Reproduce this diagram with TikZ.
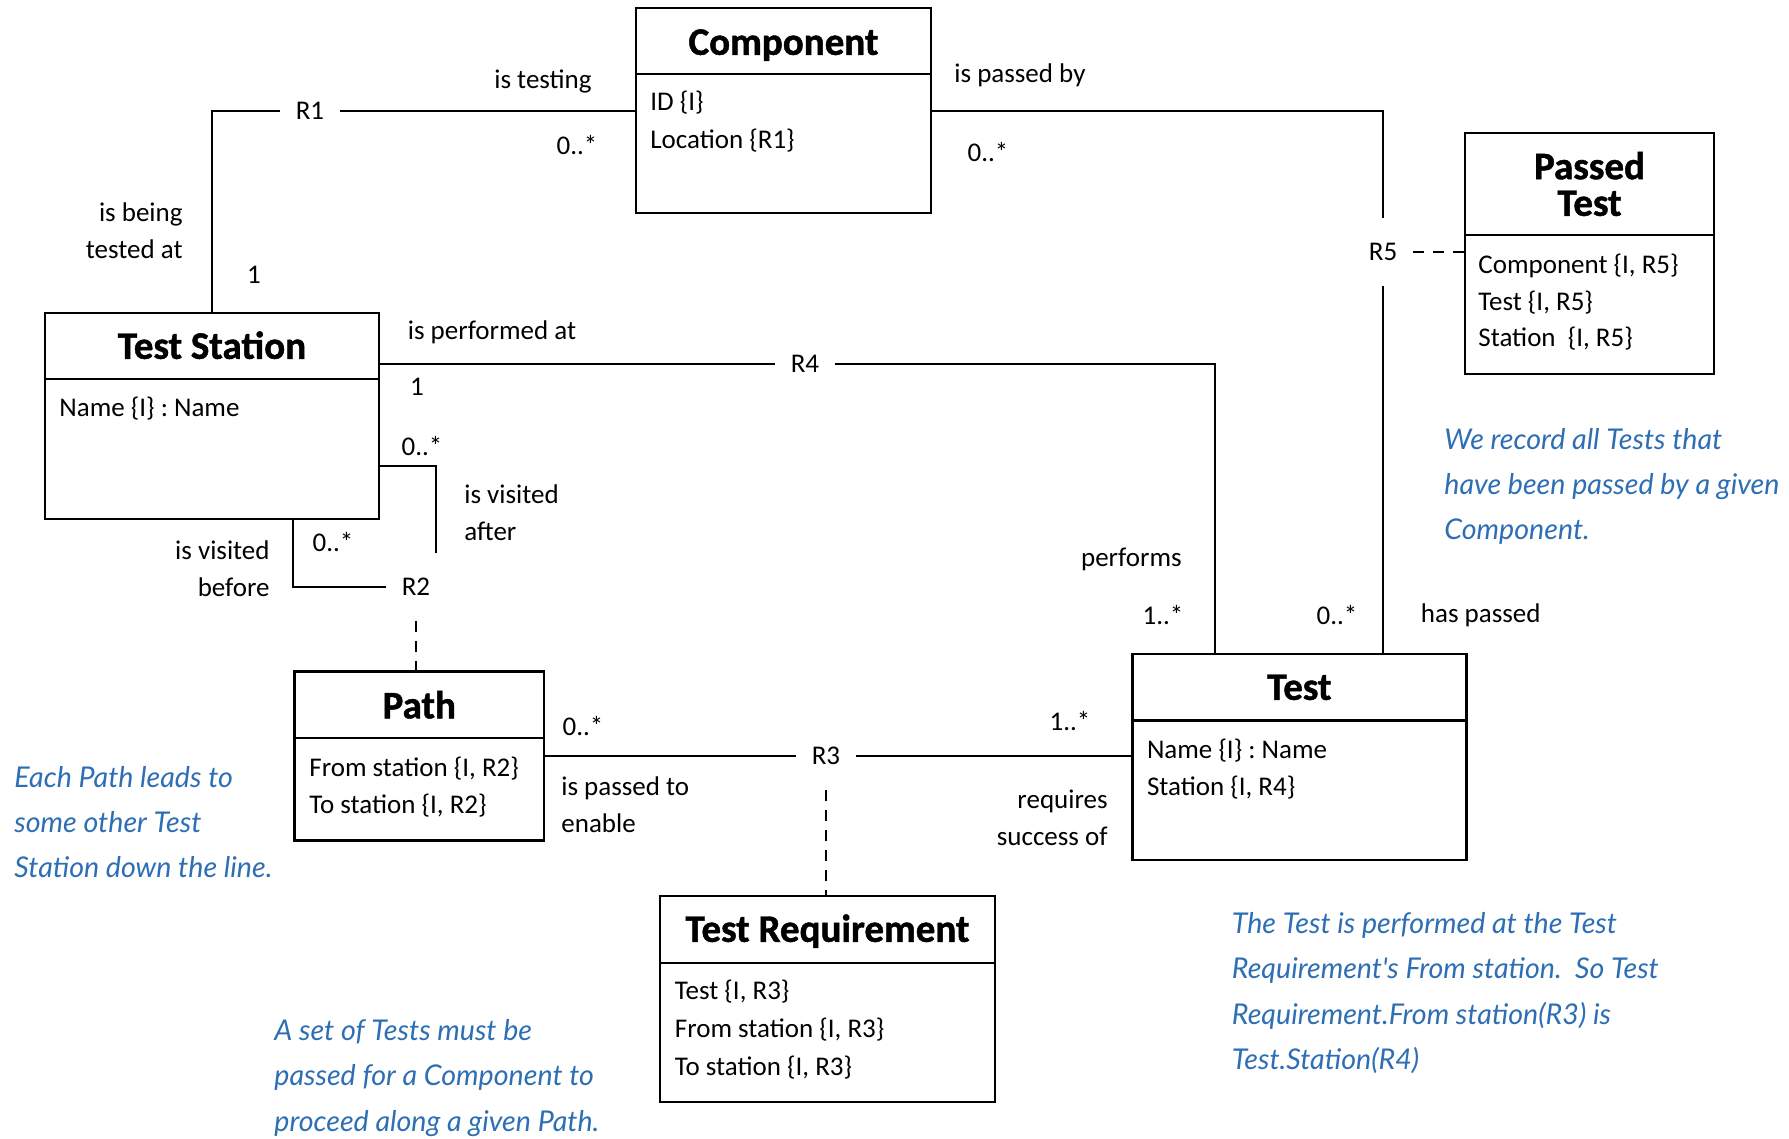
\documentclass[tikz,border=0pt]{standalone}
\usepackage{fontspec}
\setmainfont{Carlito}
\newfontfamily\titlefont{Carlito}[BoldFeatures={FakeBold=1.2}]
\newfontfamily\notefont{Lato}
\usetikzlibrary{fit}

\definecolor{notecol}{RGB}{45,110,180}

\tikzset{
  frame/.style={draw, line width=1.2pt, inner sep=0pt},
  divider/.style={line width=1.2pt},
  conn/.style={line width=1.1pt},
  assoc/.style={line width=1.1pt, dash pattern=on 5.5pt off 4.5pt},
  rel/.style={inner xsep=7.5pt, inner ysep=0pt, minimum height=33.5pt,
    font=\fontsize{13.5}{16}\selectfont},
  lbl/.style={inner sep=0pt, font=\fontsize{13.5}{18.5}\selectfont},
  title/.style={inner sep=0pt, anchor=base, font=\titlefont\fontsize{19.5}{22}\selectfont\bfseries},
  attr/.style={anchor=west, inner sep=0pt, font=\fontsize{13.5}{16}\selectfont},
  note/.style={anchor=west, align=left, inner sep=0pt, text=notecol,
    font=\notefont\itshape\fontsize{14.3}{22.6}\selectfont},
}

\begin{document}
\begin{tikzpicture}[x=0.5pt, y=-0.5pt]
\useasboundingbox (0,0) rectangle (1789,1139);

% ---- class boxes ----
\node[frame, fit={(636,8) (931,213)}] (comp) {};
\draw[divider] (comp.west |- 0,74) -- (comp.east |- 0,74);
\node[title] (compT) at ([yshift=-24pt]comp.north) {Component};
\node[attr] (compA1) at (650,103) {ID \{I\}};
\node[attr] (compA2) at (650,141) {Location \{R1\}};

\node[frame, fit={(45,313) (379,519)}] (ts) {};
\draw[divider] (ts.west |- 0,379) -- (ts.east |- 0,379);
\node[title] (tsT) at ([yshift=-23.5pt]ts.north) {Test Station};
\node[attr] (tsA1) at (59,409) {Name \{I\} : Name};

\node[frame, fit={(1465,133) (1714,374)}] (pt) {};
\draw[divider] (pt.west |- 0,235) -- (pt.east |- 0,235);
\node[title] (ptT1) at ([yshift=-23.7pt]pt.north) {Passed};
\node[title] (ptT2) at ([yshift=-42pt]pt.north) {Test};
\node[attr] (ptA1) at (1478,266) {Component \{I, R5\}};
\node[attr] (ptA2) at (1478,303) {Test \{I, R5\}};
\node[attr] (ptA3) at (1478,339) {Station\ \ \{I, R5\}};

\node[frame, fit={(294.5,671.5) (544,840.6)}] (path) {};
\draw[divider] (path.west |- 0,738) -- (path.east |- 0,738);
\node[title] (pathT) at ([yshift=-24pt]path.north) {Path};
\node[attr] (pathA1) at (309,769) {From station \{I, R2\}};
\node[attr] (pathA2) at (309,806) {To station \{I, R2\}};

\node[frame, fit={(1132.4,654) (1466.4,860)}] (test) {};
\draw[divider] (test.west |- 0,720.6) -- (test.east |- 0,720.6);
\node[title] (testT) at ([yshift=-23.5pt]test.north) {Test};
\node[attr] (testA1) at (1146.6,751) {Name \{I\} : Name};
\node[attr] (testA2) at (1146.6,788) {Station \{I, R4\}};

\node[frame, fit={(660,896) (995,1102)}] (treq) {};
\draw[divider] (treq.west |- 0,963) -- (treq.east |- 0,963);
\node[title] (treqT) at ([yshift=-23.5pt]treq.north) {Test Requirement};
\node[attr] (treqA1) at (674.5,992) {Test \{I, R3\}};
\node[attr] (treqA2) at (674.5,1030) {From station \{I, R3\}};
\node[attr] (treqA3) at (674.5,1068) {To station \{I, R3\}};

% ---- relationship labels ----
\node[rel] (R1) at (310,111) {R1};
\node[rel] (R2) at (416,587) {R2};
\node[rel] (R3) at (826,756) {R3};
\node[rel] (R4) at (805,364) {R4};
\node[rel] (R5) at (1383,252) {R5};

% ---- connectors ----
% R1: Component -- Test Station
\draw[conn] (comp.west |- R1) -- (R1.east);
\draw[conn] (R1.west) -| (ts.north);
% R4: Test Station -- Test
\draw[conn] (ts.east |- R4) -- (R4.west);
\draw[conn] (R4.east) -| ([xshift=41.8pt]test.north west);
% R5: Component -- Test, with Passed Test as association class
\draw[conn] (comp.east |- R1) -| (R5.north);
\draw[conn] (R5.south) -- (R5.south |- test.north);
\draw[assoc] (R5.east) -- (pt.west |- R5);
% R2: Test Station reflexive, with Path as association class
\draw[conn] ([yshift=-77pt]ts.north east) -| ([xshift=10pt]R2.north);
\draw[conn] (R2.west) -| ([xshift=124.75pt]ts.south west);
\draw[assoc] (R2.south) -- (R2.south |- path.north);
% R3: Path -- Test, with Test Requirement as association class
\draw[conn] (path.east |- R3) -- (R3.west);
\draw[conn] (R3.east) -- (test.west |- R3);
\draw[assoc] (R3.south) -- (R3.south |- treq.north);

% ---- phrases and multiplicities ----
\node[lbl] (l1) at (543,81) {is testing};
\node[lbl] (m1) at (577,145) {0..*};
\node[lbl, anchor=east, align=right] (l2) at (183,231) {is being\\tested at};
\node[lbl] (m2) at (254,275) {1};

\node[lbl] (l3) at (492,332) {is performed at};
\node[lbl] (m3) at (417,387) {1};
\node[lbl, anchor=east] (l4) at (1182,559) {performs};
\node[lbl] (m4) at (1163,615) {1..*};

\node[lbl] (m5) at (422,446) {0..*};
\node[lbl, anchor=west, align=left] (l5) at (464,513) {is visited\\after};
\node[lbl, anchor=east, align=right] (l6) at (270,569) {is visited\\before};
\node[lbl] (m6) at (333,542) {0..*};

\node[lbl] (m7) at (583,726) {0..*};
\node[lbl, anchor=west, align=left] (l7) at (561,805) {is passed to\\enable};
\node[lbl] (m8) at (1070,721) {1..*};
\node[lbl, anchor=east, align=right] (l8) at (1108,818) {requires\\success of};

\node[lbl, anchor=west] (l9) at (954,75) {is passed by};
\node[lbl] (m9) at (988,152) {0..*};
\node[lbl] (m10) at (1337,615) {0..*};
\node[lbl, anchor=west] (l10) at (1420.5,615) {has passed};

% ---- notes ----
\node[note] (n1) at (1444,486.5) {We record all Tests that\\have been passed by a given\\Component.};
\node[note] (n2) at (14,822) {Each Path leads to\\some other Test\\Station down the line.};
\node[note] (n3) at (274,1078) {A set of Tests must be\\passed for a Component to\\proceed along a given Path.};
\node[note] (n4) at (1231.5,993) {The Test is performed at the Test\\Requirement's From station.\ \ So Test\\Requirement.From station(R3) is\\Test.Station(R4)};
\end{tikzpicture}
\end{document}
